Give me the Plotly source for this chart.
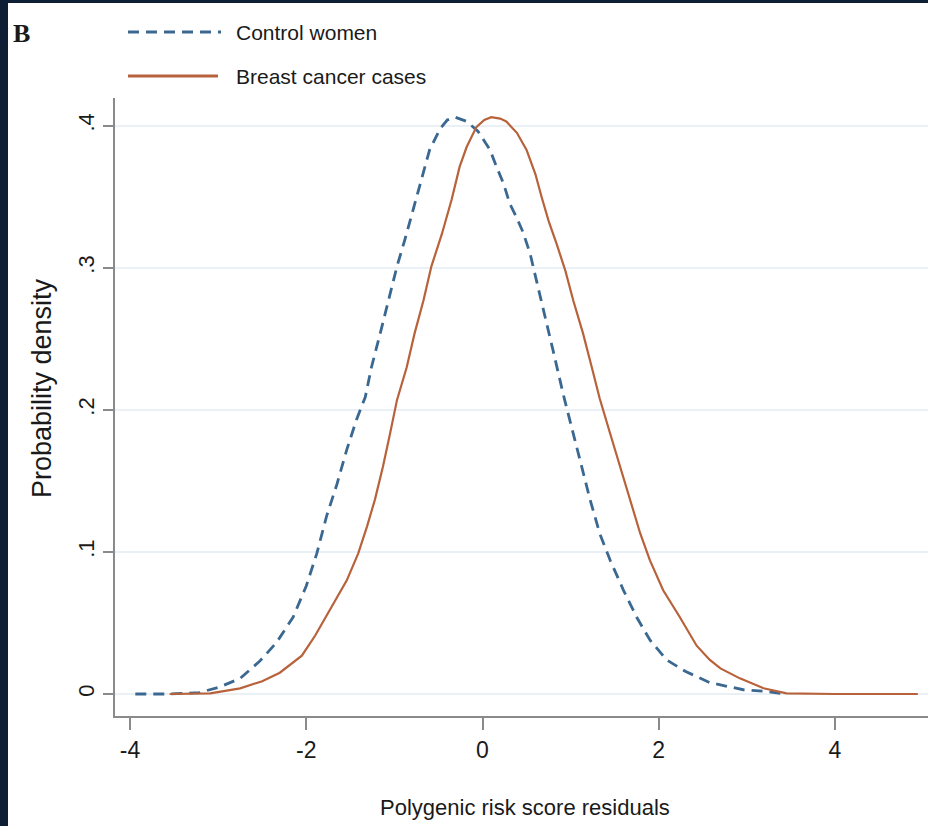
import plotly.graph_objects as go

# ---------------- data ----------------
control_x = [-3.94, -3.58, -3.21, -2.98, -2.75, -2.53, -2.34, -2.15, -2.00, -1.88,
             -1.77, -1.65, -1.54, -1.43, -1.33, -1.26, -1.16, -1.07, -0.97, -0.88,
             -0.78, -0.70, -0.60, -0.48, -0.40, -0.31, -0.18, -0.05, 0.085, 0.16,
             0.24, 0.31, 0.39, 0.46, 0.54, 0.62, 0.71, 0.80, 0.92, 1.03,
             1.13, 1.22, 1.33, 1.45, 1.60, 1.75, 1.90, 2.09, 2.30, 2.58,
             2.96, 3.20, 3.42]
control_y = [0.0, 0.0, 0.001, 0.005, 0.011, 0.023, 0.036, 0.054, 0.076, 0.099,
             0.125, 0.148, 0.172, 0.193, 0.209, 0.230, 0.254, 0.277, 0.301, 0.320,
             0.342, 0.360, 0.383, 0.398, 0.404, 0.406, 0.403, 0.396, 0.383, 0.371,
             0.359, 0.345, 0.335, 0.325, 0.310, 0.289, 0.266, 0.242, 0.210, 0.183,
             0.160, 0.137, 0.113, 0.094, 0.073, 0.054, 0.038, 0.024, 0.016, 0.008,
             0.003, 0.002, 0.0]

cases_x = [-3.55, -3.09, -2.75, -2.50, -2.30, -2.15, -2.05, -1.90, -1.70, -1.54,
           -1.41, -1.31, -1.22, -1.13, -1.05, -0.97, -0.86, -0.77, -0.67, -0.58,
           -0.46, -0.35, -0.26, -0.18, -0.07, 0.02, 0.10, 0.20, 0.27, 0.39,
           0.50, 0.60, 0.67, 0.75, 0.84, 0.94, 1.03, 1.14, 1.24, 1.33,
           1.45, 1.56, 1.67, 1.79, 1.90, 2.05, 2.24, 2.43, 2.58, 2.70,
           2.92, 3.19, 3.45, 4.00, 4.94]
cases_y = [0.0, 0.0005, 0.004, 0.009, 0.015, 0.022, 0.027, 0.041, 0.063, 0.080,
           0.099, 0.118, 0.137, 0.160, 0.183, 0.207, 0.230, 0.254, 0.277, 0.301,
           0.324, 0.348, 0.371, 0.385, 0.399, 0.404, 0.406, 0.405, 0.403, 0.395,
           0.383, 0.366, 0.350, 0.333, 0.317, 0.298, 0.277, 0.254, 0.230, 0.208,
           0.183, 0.160, 0.137, 0.113, 0.094, 0.073, 0.054, 0.034, 0.024, 0.018,
           0.011, 0.004, 0.0005, 0.0, 0.0]

x_tick_vals = [-4, -2, 0, 2, 4]
x_tick_text = ["-4", "-2", "0", "2", "4"]
y_tick_vals = [0, 0.1, 0.2, 0.3, 0.4]
y_tick_text = ["0", ".1", ".2", ".3", ".4"]

series_names = ["Control women", "Breast cancer cases"]
panel_label = "B"
x_title = "Polygenic risk score residuals"
y_title = "Probability density"

# ---------------- style ----------------
BLUE = "#3a6891"
ORANGE = "#b8623b"
NAVY = "#0e1f35"
AXIS = "#8a8a8a"
GRID = "#e9f1f6"
TXT = "#1a1a1a"
SANS = "Liberation Sans, Arial, sans-serif"

W, H = 928, 826
L, R, T, B = 115, 0, 98, 110
PW, PH = W - L - R, H - T - B


def px(xpix):
    return (xpix - L) / PW


def py(ypix):
    return (H - B - ypix) / PH


fig = go.Figure()
fig.add_trace(go.Scatter(x=control_x, y=control_y, mode="lines", name=series_names[0],
                         line=dict(color=BLUE, width=2.8, dash="11px,7px"),
                         showlegend=False))
fig.add_trace(go.Scatter(x=cases_x, y=cases_y, mode="lines", name=series_names[1],
                         line=dict(color=ORANGE, width=2.2),
                         showlegend=False))

shapes = [
    # white page with dark frame on the left/top
    dict(type="rect", xref="paper", yref="paper", x0=px(8), x1=px(940), y0=py(840), y1=py(3),
         fillcolor="white", line=dict(width=0), layer="below"),
    # legend samples
    dict(type="line", xref="paper", yref="paper", x0=px(128), x1=px(221), y0=py(32), y1=py(32),
         line=dict(color=BLUE, width=3, dash="11px,7px")),
    dict(type="line", xref="paper", yref="paper", x0=px(128), x1=px(218), y0=py(76), y1=py(76),
         line=dict(color=ORANGE, width=3)),
]

annotations = [
    dict(text="<b>" + panel_label + "</b>", xref="paper", yref="paper", x=px(11), y=py(34),
         xanchor="left", yanchor="middle", showarrow=False,
         font=dict(family="Liberation Serif, Times New Roman, serif", size=26, color=TXT)),
    dict(text=series_names[0], xref="paper", yref="paper", x=px(234), y=py(33), xanchor="left",
         yanchor="middle", showarrow=False, font=dict(family=SANS, size=21, color=TXT)),
    dict(text=series_names[1], xref="paper", yref="paper", x=px(234), y=py(76), xanchor="left",
         yanchor="middle", showarrow=False, font=dict(family=SANS, size=21, color=TXT)),
    dict(text=x_title, xref="paper", yref="paper", x=px(525), y=py(807), xanchor="center",
         yanchor="middle", showarrow=False, font=dict(family=SANS, size=22, color=TXT)),
    dict(text=y_title, xref="paper", yref="paper", x=px(42), y=py(388), xanchor="center",
         yanchor="middle", textangle=-90, showarrow=False,
         font=dict(family=SANS, size=27, color=TXT)),
]

fig.update_layout(
    width=W, height=H,
    margin=dict(l=L, r=R, t=T, b=B, pad=0),
    paper_bgcolor=NAVY, plot_bgcolor="white",
    shapes=shapes, annotations=annotations,
    xaxis=dict(range=[(115 - 482.5) / 88.125, (928 - 482.5) / 88.125],
               tickmode="array", tickvals=x_tick_vals, ticktext=x_tick_text,
               ticks="outside", ticklen=12, tickwidth=2, tickcolor=AXIS,
               showline=True, linecolor=AXIS, linewidth=2,
               showgrid=False, zeroline=False,
               tickfont=dict(family=SANS, size=23, color=TXT)),
    yaxis=dict(range=[(694 - 716) / 1420.75, (694 - 98) / 1420.75],
               tickmode="array", tickvals=y_tick_vals, ticktext=y_tick_text,
               ticks="outside", ticklen=10, tickwidth=2, tickcolor=AXIS,
               tickangle=-90,
               showline=True, linecolor=AXIS, linewidth=2,
               showgrid=True, gridcolor=GRID, gridwidth=2, zeroline=False,
               tickfont=dict(family=SANS, size=22, color=TXT)),
)

fig.write_html("out.html")
